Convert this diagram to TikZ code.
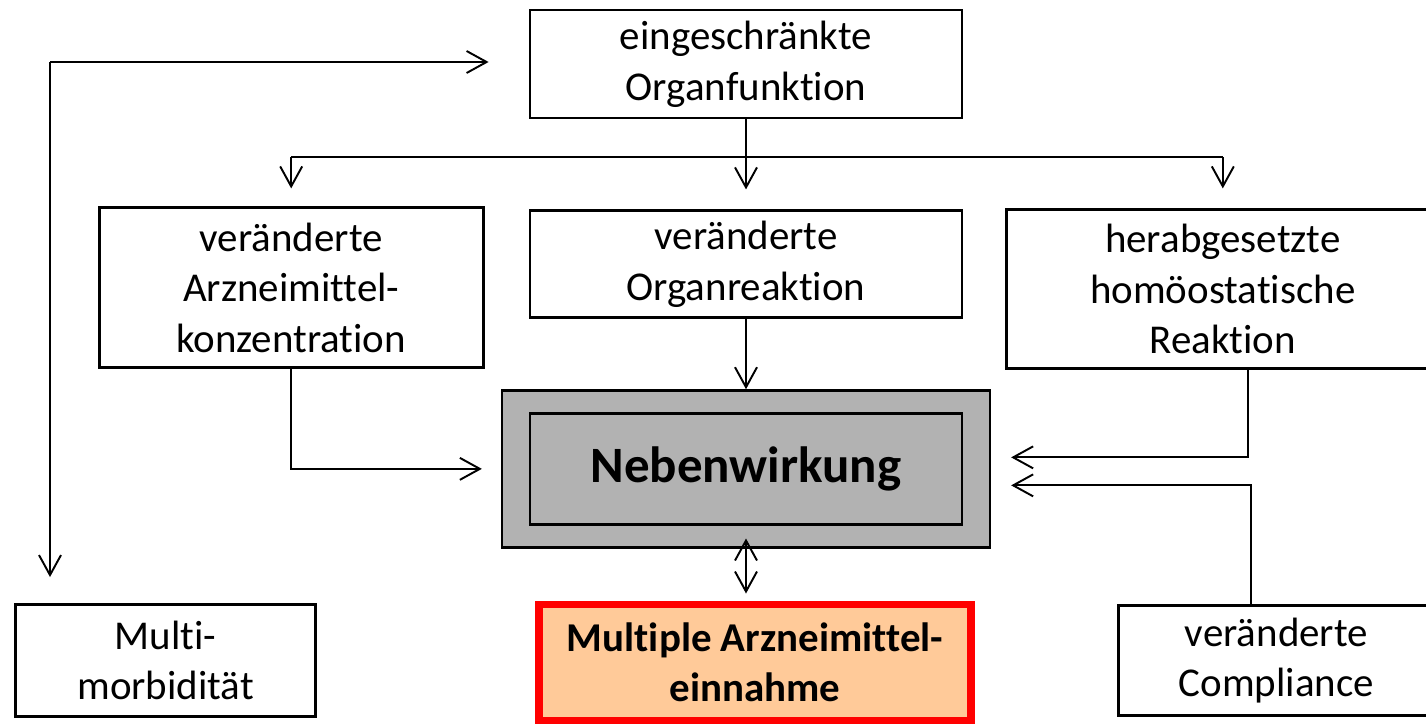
\documentclass[tikz,border=0pt]{standalone}
\usepackage{fontspec}
\setmainfont{Carlito}[Ligatures=NoCommon]
\usetikzlibrary{positioning,arrows.meta}
\definecolor{pfirsich}{RGB}{255,202,153}
\definecolor{signalrot}{RGB}{255,0,0}

\begin{document}
\begin{tikzpicture}[
  x=0.2mm, y=-0.2mm,
  font=\fontsize{23.3pt}{28.8pt}\selectfont,
  box/.style={rectangle,draw=black,line width=1.6pt,fill=white,
              minimum width=86.4mm,align=center,inner sep=2pt},
  grau/.style={box,fill=black!30,line width=1.3pt},
  rotbox/.style={box,draw=signalrot,fill=pfirsich,line width=4.5pt,
                 font=\fontsize{23.3pt}{28.8pt}\selectfont\bfseries},
  arr/.style={-{Straight Barb[length=4mm,width=4.4mm]},line width=1.1pt},
  dpfeil/.style={arr,{Straight Barb[length=4mm,width=4.4mm]}-{Straight Barb[length=4mm,width=4.4mm]}},
]
\useasboundingbox (0,0) rectangle (1426,727);
\clip (0,0) rectangle (1426,727);

\node[box,minimum height=21.6mm] (organ) at (746,64) {eingeschränkte\\Organfunktion};
\node[box,minimum height=21.4mm,below=18mm of organ] (reakt) {veränderte\\Organreaktion};
\node[box,minimum width=76.8mm,minimum height=32mm,left=8.8mm of reakt.north west,
      anchor=north east,yshift=0.6mm] (konz) {veränderte\\Arzneimittel-\\konzentration};
\node[box,minimum height=31.8mm,right=8.4mm of reakt.north east,
      anchor=north west,yshift=0.2mm] (homoe) {herabgesetzte\\homöostatische\\Reaktion};

\node[grau,minimum width=97.6mm,minimum height=31.4mm,below=14mm of reakt] (neben) {};
\node[grau,minimum height=22.2mm,font=\fontsize{29pt}{34pt}\selectfont\bfseries] (kern) at (neben) {Nebenwirkung};

\node[rotbox,minimum height=23.2mm,below=10.4mm of neben,xshift=1.8mm] (einnahme) {Multiple Arzneimittel-\\einnahme};
\node[box,minimum width=60mm,minimum height=22.4mm,left=43.6mm of einnahme,yshift=0.4mm] (multi) {Multi-\\morbidität};
\node[box,minimum width=63.2mm,minimum height=22mm,right=28.4mm of einnahme,yshift=0.4mm] (compl) {veränderte\\Compliance};

% linke Rueckkopplung
\coordinate (ecke) at (50,62);
\draw[arr,shorten >=8mm] (ecke) -- (ecke -| organ.west);
\draw[arr,shorten >=5.2mm] (ecke) -- (ecke |- multi.north);

% Verzweigung unter der Organfunktion
\coordinate (gabel) at ([yshift=-7.6mm]organ.south);
\draw[arr,shorten >=4mm] (organ) -- (reakt);
\draw[line width=1.1pt] (gabel -| konz) -- (gabel -| homoe);
\draw[arr,shorten >=3.6mm] (gabel -| konz) -- (konz);
\draw[arr,shorten >=4mm] (gabel -| homoe) -- (homoe);

\draw[arr] (reakt) -- (neben);
\draw[arr,shorten >=3.8mm] (konz.south) |- (neben.west);
\draw[arr,shorten >=4mm] ([xshift=5mm]homoe.south) |- ([yshift=2.3mm]neben.east);
\draw[arr,shorten >=4mm] ([xshift=-5mm]compl.north) |- ([yshift=-3.3mm]neben.east);
\draw[dpfeil,shorten <=-2mm,shorten >=1.4mm] (neben.south) -- (neben.south |- einnahme.north);
\end{tikzpicture}
\end{document}
